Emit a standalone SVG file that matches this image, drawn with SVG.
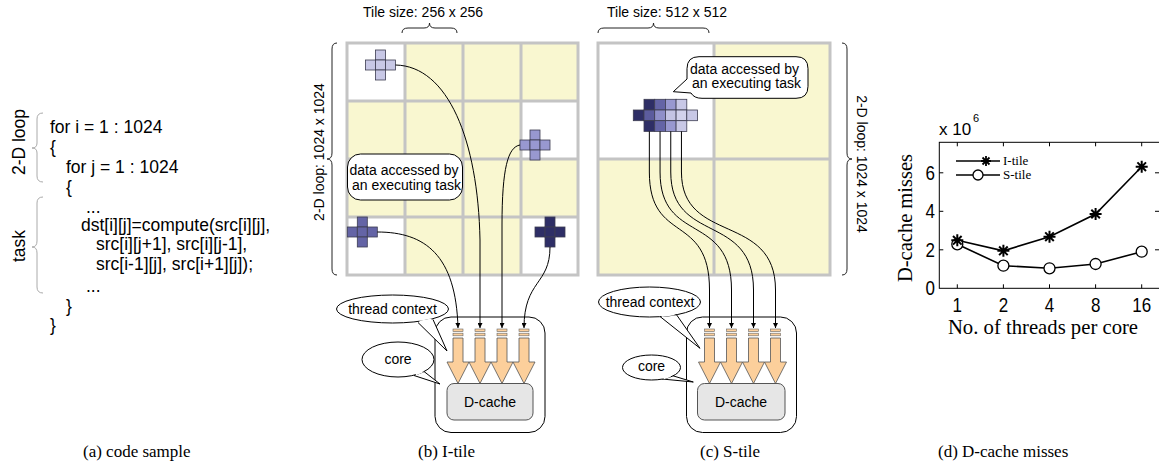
<svg xmlns="http://www.w3.org/2000/svg" width="1159" height="464" viewBox="0 0 1159 464">
<defs>
<style>
.sans{font-family:"Liberation Sans",Arial,sans-serif;fill:#000}
.serif{font-family:"Liberation Serif","Times New Roman",serif;fill:#000}
.code{font-size:17.5px}
.lbl{font-size:14px}
.cap{font-size:17px}
.yc{fill:#f9f7d0}
.wc{fill:#ffffff}
.gl{stroke:#c4c4c4;stroke-width:3;fill:none}
.brace{fill:none;stroke:#222;stroke-width:1}
.gbrace{fill:none;stroke:#aaaaaa;stroke-width:1}
.xc{stroke:#3c3c50;stroke-width:0.8}
.c1{fill:#2e2e66}.c2{fill:#6464a6}.c3{fill:#9898d0}.c4{fill:#c8c8e6}
.c5{fill:#5c5c9e}.c6{fill:#8f8fc9}.c7{fill:#c4c4e4}.c8{fill:#d2d2ec}
.conn{fill:none;stroke:#000;stroke-width:1;marker-end:url(#ah)}
.bubble{fill:#fff;stroke:#000;stroke-width:1}
.bar{fill:#fccf9b;stroke:#666;stroke-width:0.6}
.tarrow{fill:#fccf9b;stroke:#555;stroke-width:0.8}
.corebox{fill:#fff;stroke:#000;stroke-width:1}
.dc{fill:#e6e6e6;stroke:#555;stroke-width:1}
.axis{fill:none;stroke:#000;stroke-width:1}
.dline{fill:none;stroke:#000;stroke-width:1.6}
.tick{font-size:17px}
</style>
<marker id="ah" viewBox="0 0 10 10" refX="10" refY="5" markerWidth="5" markerHeight="5" orient="auto" markerUnits="userSpaceOnUse"><path d="M0,0 L10,5 L0,10 z" fill="#000"/></marker>
<g id="thr">
<rect class="bar" x="-5" y="329" width="10" height="2.6"/>
<rect class="bar" x="-5" y="333.2" width="10" height="2.6"/>
<polygon class="tarrow" points="-5,338 5,338 5,362 11,362 0,383.5 -11,362 -5,362"/>
</g>
</defs>

<!-- (a) code sample -->
<g id="code">
<text class="sans code" x="50" y="132.5">for i = 1 : 1024</text>
<text class="sans code" x="50" y="152.5">{</text>
<text class="sans code" x="66" y="172.5">for j = 1 : 1024</text>
<text class="sans code" x="66" y="192.5">{</text>
<text class="sans code" x="86" y="212.5">...</text>
<text class="sans code" x="81" y="231">dst[i][j]=compute(src[i][j],</text>
<text class="sans code" x="96" y="250">src[i][j+1], src[i][j-1],</text>
<text class="sans code" x="96" y="269.5">src[i-1][j], src[i+1][j]);</text>
<text class="sans code" x="86" y="291.5">...</text>
<text class="sans code" x="66" y="312">}</text>
<text class="sans code" x="50" y="331">}</text>
</g>
<g id="loop-label">
<path class="gbrace" d="M43,113 Q37,113 37,119 L37,143 Q37,148 32,148 Q37,148 37,153 L37,176 Q37,182 43,182"/>
<text class="sans code" transform="translate(25,142) rotate(-90)" text-anchor="middle">2-D loop</text>
</g>
<g id="task-label">
<path class="gbrace" d="M43,197 Q37,197 37,203 L37,241 Q37,247 32,247 Q37,247 37,253 L37,287 Q37,293 43,293"/>
<text class="sans code" transform="translate(25,246) rotate(-90)" text-anchor="middle">task</text>
</g>

<!-- (b) I-tile -->
<g id="itile-grid">
<rect class="yc" x="347" y="43" width="231" height="232"/>
<rect class="wc" x="347" y="43" width="58" height="58"/>
<rect class="wc" x="521" y="101" width="57" height="58"/>
<rect class="wc" x="347" y="217" width="58" height="58"/>
<rect class="wc" x="521" y="217" width="57" height="58"/>
<rect class="gl" x="347" y="43" width="231" height="232"/>
<path class="gl" d="M405,43V275M463,43V275M521,43V275M347,101H578M347,159H578M347,217H578"/>
</g>
<g id="itile-size">
<text class="sans lbl" x="363" y="16.5">Tile size: 256 x 256</text>
<path class="brace" d="M402,33 Q402,28 408,28 L424,28 Q429.5,28 429.5,23 Q429.5,28 435,28 L451,28 Q457,28 457,33"/>
</g>
<g id="itile-loop">
<path class="brace" d="M337,43 Q332,43 332,49 L332,153 Q332,159 327,159 Q332,159 332,165 L332,269 Q332,275 337,275"/>
<text class="sans lbl" transform="translate(324,152) rotate(-90)" text-anchor="middle">2-D loop: 1024 x 1024</text>
</g>
<g id="itile-callout">
<rect class="bubble" x="347.5" y="154" width="115" height="46" rx="13"/>
<text class="sans lbl" x="349.5" y="175">data accessed by</text>
<text class="sans lbl" x="352" y="189.5">an executing task</text>
</g>
<g id="itile-cross1" class="xc">
<rect class="c4" x="375.5" y="50" width="10" height="10"/><rect class="c4" x="365.5" y="60" width="10" height="10"/><rect class="c4" x="375.5" y="60" width="10" height="10"/><rect class="c4" x="385.5" y="60" width="10" height="10"/><rect class="c4" x="375.5" y="70" width="10" height="10"/>
</g>
<g id="itile-cross2" class="xc">
<rect class="c3" x="530" y="130" width="10" height="10"/><rect class="c3" x="520" y="140" width="10" height="10"/><rect class="c3" x="530" y="140" width="10" height="10"/><rect class="c3" x="540" y="140" width="10" height="10"/><rect class="c3" x="530" y="150" width="10" height="10"/>
</g>
<g id="itile-cross3" class="xc">
<rect class="c2" x="357.3" y="217" width="10" height="10"/><rect class="c2" x="347.3" y="227" width="10" height="10"/><rect class="c2" x="357.3" y="227" width="10" height="10"/><rect class="c2" x="367.3" y="227" width="10" height="10"/><rect class="c2" x="357.3" y="237" width="10" height="10"/>
</g>
<g id="itile-cross4" class="xc">
<rect class="c1" x="545" y="217" width="10" height="10"/><rect class="c1" x="535" y="227" width="10" height="10"/><rect class="c1" x="545" y="227" width="10" height="10"/><rect class="c1" x="555" y="227" width="10" height="10"/><rect class="c1" x="545" y="237" width="10" height="10"/>
</g>
<g id="itile-core">
<rect class="corebox" x="435" y="317" width="110" height="115.5" rx="16"/>
<use href="#thr" x="458"/>
<use href="#thr" x="480"/>
<use href="#thr" x="502"/>
<use href="#thr" x="524"/>
<rect class="dc" x="447" y="383.5" width="86" height="36.5" rx="7"/>
<text class="sans lbl" x="490" y="406.5" text-anchor="middle">D-cache</text>
</g>
<g id="itile-thread-context">
<path class="bubble" d="M418,322.5 L447,351 L433,319.5"/>
<ellipse class="bubble" cx="392.5" cy="309" rx="56" ry="14"/>
<path d="M419.5,321.8 L431.5,319.4" stroke="#fff" stroke-width="2"/>
<text class="sans lbl" x="392.5" y="313.5" text-anchor="middle">thread context</text>
</g>
<g id="itile-core-label">
<path class="bubble" d="M414,375.5 L440,384 L424,371.5"/>
<ellipse class="bubble" cx="398" cy="359.5" rx="36" ry="17.5"/>
<path d="M415.8,374.3 L422.5,371.5" stroke="#fff" stroke-width="2"/>
<text class="sans lbl" x="398" y="364" text-anchor="middle">core</text>
</g>

<!-- (c) S-tile -->
<g id="stile-grid">
<rect class="yc" x="598" y="43" width="232" height="232"/>
<rect class="wc" x="598" y="43" width="116" height="116"/>
<rect class="gl" x="598" y="43" width="232" height="232"/>
<path class="gl" d="M714,43V275M598,159H830"/>
</g>
<g id="stile-size">
<text class="sans lbl" x="607" y="16.5">Tile size: 512 x 512</text>
<path class="brace" d="M598,33 Q598,28 604,28 L648,28 Q653.5,28 653.5,23 Q653.5,28 659,28 L703,28 Q709,28 709,33"/>
</g>
<g id="stile-loop">
<path class="brace" d="M842,43 Q847,43 847,49 L847,153 Q847,159 852,159 Q847,159 847,165 L847,269 Q847,275 842,275"/>
<text class="sans lbl" transform="translate(857,164) rotate(90)" text-anchor="middle">2-D loop: 1024 x 1024</text>
</g>
<g id="stile-callout">
<path class="bubble" d="M699,56.7 H796 Q808,56.7 808,68.7 V86.3 Q808,98.3 796,98.3 H702 Q694,98.3 691,93 L673.3,91.7 L687,79 V68.7 Q687,56.7 699,56.7 Z"/>
<text class="sans lbl" x="690" y="74">data accessed by</text>
<text class="sans lbl" x="692" y="88">an executing task</text>
</g>
<g id="stile-block" class="xc">
<rect class="c1" x="644" y="99.3" width="10.7" height="10.7"/><rect class="c2" x="654.7" y="99.3" width="10.7" height="10.7"/><rect class="c3" x="665.4" y="99.3" width="10.7" height="10.7"/><rect class="c4" x="676.1" y="99.3" width="10.7" height="10.7"/>
<rect class="c1" x="633.3" y="110" width="10.7" height="10.7"/><rect class="c5" x="644" y="110" width="10.7" height="10.7"/><rect class="c6" x="654.7" y="110" width="10.7" height="10.7"/><rect class="c7" x="665.4" y="110" width="10.7" height="10.7"/><rect class="c8" x="676.1" y="110" width="10.7" height="10.7"/><rect class="c4" x="686.8" y="110" width="10.7" height="10.7"/>
<rect class="c1" x="644" y="120.7" width="10.7" height="10.7"/><rect class="c2" x="654.7" y="120.7" width="10.7" height="10.7"/><rect class="c3" x="665.4" y="120.7" width="10.7" height="10.7"/><rect class="c4" x="676.1" y="120.7" width="10.7" height="10.7"/>
</g>
<g id="stile-core">
<rect class="corebox" x="686.5" y="317" width="110" height="115.5" rx="16"/>
<use href="#thr" x="709.5"/>
<use href="#thr" x="731.5"/>
<use href="#thr" x="753.5"/>
<use href="#thr" x="775.5"/>
<rect class="dc" x="697.5" y="383.5" width="87.5" height="36.5" rx="7"/>
<text class="sans lbl" x="741" y="407" text-anchor="middle">D-cache</text>
</g>
<g id="stile-thread-context">
<path class="bubble" d="M660,316.5 L700,348.3 L676,314"/>
<ellipse class="bubble" cx="649.5" cy="302" rx="51" ry="15"/>
<path d="M661.5,316 L674.5,314.3" stroke="#fff" stroke-width="2"/>
<text class="sans lbl" x="650" y="306.5" text-anchor="middle">thread context</text>
</g>
<g id="stile-core-label">
<path class="bubble" d="M662,379 L693.3,382 L672,375.5"/>
<ellipse class="bubble" cx="651.5" cy="367.5" rx="29" ry="12.5"/>
<path d="M663.5,378.4 L670.5,376" stroke="#fff" stroke-width="2"/>
<text class="sans lbl" x="651.5" y="371" text-anchor="middle">core</text>
</g>

<!-- connectors -->
<g id="connectors">
<path class="conn" d="M395.5,65 C448,66 478,140 480,240 L480,328"/>
<path class="conn" d="M520,145 C508,147 502,168 502,225 L502,328"/>
<path class="conn" d="M377.3,232 C425,232 456,255 458,328"/>
<path class="conn" d="M550,247 C550,285 524,280 524,328"/>
<path class="conn" d="M649.35,131.4 L649.35,172 C649.35,245 709.5,212 709.5,290 L709.5,328"/>
<path class="conn" d="M660.05,131.4 L660.05,172 C660.05,245 731.5,212 731.5,290 L731.5,328"/>
<path class="conn" d="M670.75,131.4 L670.75,172 C670.75,245 753.5,212 753.5,290 L753.5,328"/>
<path class="conn" d="M681.45,131.4 L681.45,172 C681.45,245 775.5,212 775.5,290 L775.5,328"/>
</g>

<!-- (d) chart -->
<g id="chart">
<rect class="axis" x="939.3" y="142.3" width="222" height="146"/>
<path class="axis" d="M957.3,288.3v-4M1003.4,288.3v-4M1049.5,288.3v-4M1095.6,288.3v-4M1141.7,288.3v-4M957.3,142.3v4M1003.4,142.3v4M1049.5,142.3v4M1095.6,142.3v4M1141.7,142.3v4M939.3,249.8h4M939.3,211.3h4M939.3,172.8h4M1159,249.8h-4M1159,211.3h-4M1159,172.8h-4"/>
<g class="sans tick" text-anchor="end">
<text transform="translate(935,295) scale(1,1.2)">0</text>
<text transform="translate(935,256.5) scale(1,1.2)">2</text>
<text transform="translate(935,218) scale(1,1.2)">4</text>
<text transform="translate(935,179.5) scale(1,1.2)">6</text>
</g>
<g class="sans tick" text-anchor="middle">
<text transform="translate(957.3,312) scale(1,1.2)">1</text>
<text transform="translate(1003.4,312) scale(1,1.2)">2</text>
<text transform="translate(1049.5,312) scale(1,1.2)">4</text>
<text transform="translate(1095.6,312) scale(1,1.2)">8</text>
<text transform="translate(1141.7,312) scale(1,1.2)">16</text>
</g>
<text class="sans" x="939" y="135" font-size="17">x 10</text>
<text class="sans" x="973" y="122" font-size="11">6</text>
<text class="serif" transform="translate(912,218) rotate(-90)" text-anchor="middle" font-size="20.5">D-cache misses</text>
<text class="serif" x="1043" y="334" text-anchor="middle" font-size="20.7">No. of threads per core</text>
<polyline class="dline" points="957.3,240.3 1003.4,250.8 1049.5,236.7 1095.6,214 1141.7,166.7"/>
<polyline class="dline" points="957.3,244.3 1003.4,265.7 1049.5,268.3 1095.6,264 1141.7,251.7"/>
<g fill="#fff" stroke="#000" stroke-width="1.3">
<circle cx="957.3" cy="244.3" r="5.5"/><circle cx="1003.4" cy="265.7" r="5.5"/><circle cx="1049.5" cy="268.3" r="5.5"/><circle cx="1095.6" cy="264" r="5.5"/><circle cx="1141.7" cy="251.7" r="5.5"/>
</g>
<g stroke="#000" stroke-width="2">
<path d="M951.3,240.3h12M957.3,234.3v12M953,236l8.6,8.6M961.6,236l-8.6,8.6"/>
<path d="M997.4,250.8h12M1003.4,244.8v12M999.1,246.5l8.6,8.6M1007.7,246.5l-8.6,8.6"/>
<path d="M1043.5,236.7h12M1049.5,230.7v12M1045.2,232.4l8.6,8.6M1053.8,232.4l-8.6,8.6"/>
<path d="M1089.6,214h12M1095.6,208v12M1091.3,209.7l8.6,8.6M1099.9,209.7l-8.6,8.6"/>
<path d="M1135.7,166.7h12M1141.7,160.7v12M1137.4,162.4l8.6,8.6M1146,162.4l-8.6,8.6"/>
</g>
<g id="legend">
<line x1="956" y1="161" x2="1000" y2="161" stroke="#000" stroke-width="1.6"/>
<path d="M981,161h10M986,156v10M982.5,157.5l7,7M989.5,157.5l-7,7" stroke="#000" stroke-width="1.8"/>
<text class="serif" x="1003" y="165" font-size="13">I-tile</text>
<line x1="956" y1="175" x2="1000" y2="175" stroke="#000" stroke-width="1.6"/>
<circle cx="978" cy="175" r="5" fill="#fff" stroke="#000" stroke-width="1.3"/>
<text class="serif" x="1003" y="179" font-size="13">S-tile</text>
</g>
</g>

<!-- captions -->
<g id="captions">
<text class="serif cap" x="83" y="456.5">(a) code sample</text>
<text class="serif cap" x="418" y="456.5">(b) I-tile</text>
<text class="serif cap" x="700" y="456.5">(c) S-tile</text>
<text class="serif cap" x="938" y="456.5">(d) D-cache misses</text>
</g>
</svg>
